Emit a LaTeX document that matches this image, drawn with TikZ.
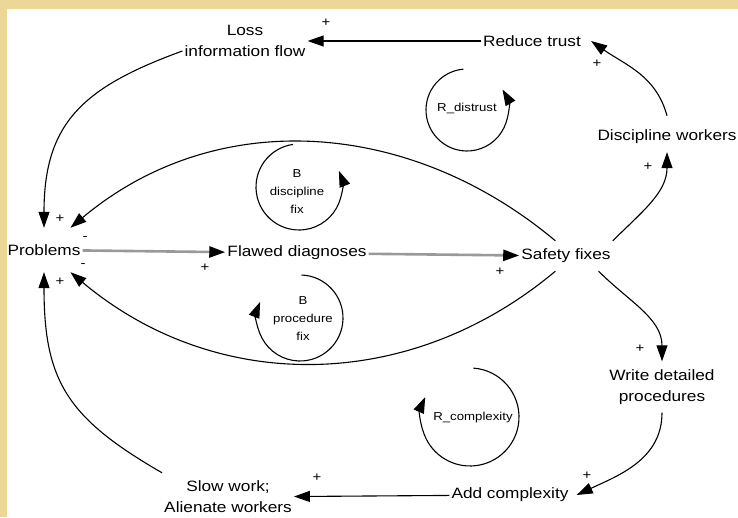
\documentclass[tikz,border=0pt]{standalone}
\usepackage{fontspec}
\setmainfont{Liberation Sans}[FakeStretch=1.15]
\usetikzlibrary{arrows.meta}
\definecolor{bgyellow}{RGB}{236,214,152}

\begin{document}
\begin{tikzpicture}[
            x=1pt, y=1pt,
            >={Triangle[length=16pt, width=11pt]},
            var/.style={font=\fontsize{15}{21}\selectfont, align=center, inner xsep=2pt, inner ysep=8pt},
            loopname/.style={font=\fontsize{11.5}{18}\selectfont, align=center, inner sep=1pt},
            pol/.style={font=\fontsize{13}{13}\selectfont, inner sep=0pt},
            link/.style={->, line width=1.1pt},
            mainlink/.style={-{Triangle[length=16pt, width=11pt, color=black]}, line width=2.6pt, draw=black!40},
            loopline/.style={->, line width=1.1pt},
        ]
            \useasboundingbox (0,0) rectangle (738,517);
            \fill[bgyellow] (0,0) rectangle (738,517);
            \fill[white] (7,0) rectangle (738,508);

            % Draw the variables
            \node[var, minimum height=44pt] (prob) at (44,267) {Problems};
            \node[var] (flawed) at (297,264) {Flawed diagnoses};
            \node[var] (safety) at (566,261) {Safety fixes};
            \node[var] (loss) at (245,476) {Loss\\information flow};
            \node[var] (trust) at (532,476) {Reduce trust};
            \node[var] (discw) at (667,380) {Discipline workers};
            \node[var] (write) at (662,130) {Write detailed\\procedures};
            \node[var] (addc) at (510,22) {Add complexity};
            \node[var] (slow) at (228,20) {Slow work;\\Alienate workers};

            % Draw the loop names
            \node[loopname] (rdis) at (467,409) {R\_distrust};
            \node[loopname] (bdis) at (297,325) {B\\discipline\\fix};
            \node[loopname] (bproc) at (303,198) {B\\procedure\\fix};
            \node[loopname] (rcx) at (473,99) {R\_complexity};
            \coordinate (Ldis) at (467,407);
            \coordinate (Lbd) at (299,330);
            \coordinate (Lbp) at (300,199);
            \coordinate (Lcx) at (470,100);

            % Loop arrows
            \draw[loopline] (Ldis) ++(95:41pt) arc[start angle=95, end angle=390, radius=41pt];
            \draw[loopline] (Lbd) ++(98:43pt) arc[start angle=98, end angle=382, radius=43pt];
            \draw[loopline] (Lbp) ++(88:43pt) arc[start angle=88, end angle=-202, radius=43pt];
            \draw[loopline] (Lcx) ++(86:49pt) arc[start angle=86, end angle=-204, radius=49pt];

            % Main chain
            \path (prob) edge[mainlink] (flawed);
            \path (flawed) edge[mainlink] (safety);

            % Outer links
            \path (trust) edge[link] (loss);
            \path ([yshift=6pt]discw.north) edge[link, out=105, in=-35] ([xshift=8pt]trust.east);
            \path (safety.north east) edge[link, out=45, in=-90] (discw.south);
            \path ([yshift=-10pt]loss.west) edge[link, out=200, in=90, looseness=1.2] (prob.north);
            \path (safety.-25) edge[link, out=-45, in=90] (write.north);
            \path (write.south) edge[link, out=-90, in=25] ([xshift=6pt]addc.east);
            \path (addc) edge[link] (slow);
            \path (slow.north west) edge[link, out=150, in=-90, looseness=1.2] (prob.south);

            % Links back to Problems
            \path (safety.125) edge[link, out=140, in=40] (prob.40);
            \path (safety.-125) edge[link, out=-140, in=-40] (prob.-40);

            % Polarities
            \node[pol] (s1) at (326,494) {+};
            \node[pol] (s2) at (597,453) {+};
            \node[pol] (s3) at (648,350) {+};
            \node[pol] (s4) at (205,249) {+};
            \node[pol] (s5) at (500,245) {+};
            \node[pol] (s6) at (640,168) {+};
            \node[pol] (s7) at (587,41) {+};
            \node[pol] (s8) at (317,39) {+};
            \node[pol] (s9) at (60,298) {+};
            \node[pol] (s10) at (85,278) {-};
            \node[pol] (s11) at (83,251) {-};
            \node[pol] (s12) at (60,235) {+};
        \end{tikzpicture}
\end{document}
